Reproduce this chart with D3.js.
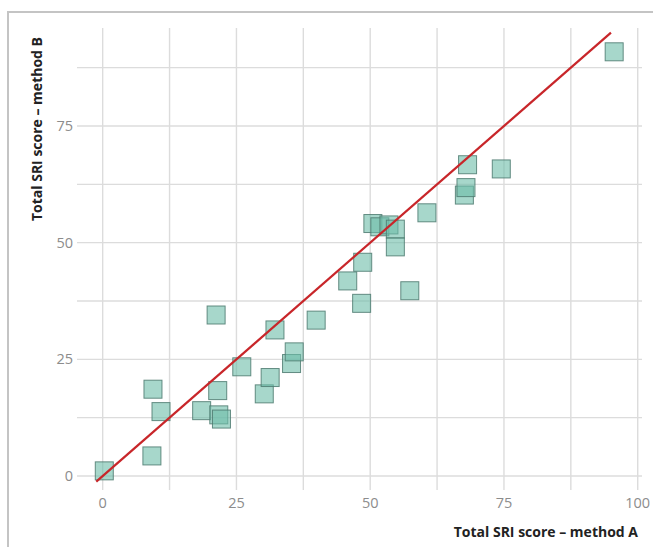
<!DOCTYPE html>
<html>
<head>
<meta charset="utf-8">
<script src="https://cdn.jsdelivr.net/npm/d3@7"></script>
<style>
  body { margin: 0; background: #fff; }
  .tick-label { font-family: "Open Sans", sans-serif; font-size: 14.5px; fill: #8c8c8c; }
  .axis-title { font-family: "Open Sans", sans-serif; font-weight: 700; font-size: 14px; fill: #222; }
</style>
</head>
<body>
<div class="chart"></div>
<script>
  // scores
  var methodA = [0.3, 9.2, 9.4, 10.9, 18.5, 21.5, 21.7, 22.2, 21.2, 26, 30.2, 31.3, 32.2, 35.3, 35.8, 39.9,
    45.8, 48.4, 48.6, 50.5, 51.8, 53.5, 54.7, 54.7, 57.4, 60.6, 67.6, 67.9, 68.2, 74.5, 95.6];
  var methodB = [1.1, 4.3, 18.6, 13.8, 14, 18.3, 13.1, 12.2, 34.5, 23.4, 17.6, 21.1, 31.3, 24.1, 26.6, 33.4,
    41.8, 37, 45.8, 54.1, 53.4, 53.8, 52.9, 49.1, 39.7, 56.4, 60.2, 61.8, 66.7, 65.8, 90.9];
  var tickValues = [0, 25, 50, 75, 100];
  var yTickValues = [0, 25, 50, 75];
  var gridValues = [0, 12.5, 25, 37.5, 50, 62.5, 75, 87.5, 100];
  var lineEnds = [-1.2, 95];

  var width = 653, height = 547;
  var svg = d3.select(".chart").append("svg")
    .attr("width", width)
    .attr("height", height);

  // outer frame
  svg.append("rect")
    .attr("x", 8).attr("y", 12)
    .attr("width", 700).attr("height", 600)
    .attr("fill", "none")
    .attr("stroke", "#c4c4c4")
    .attr("stroke-width", 2);

  var x = d3.scaleLinear().domain([-4.8, 100.8]).range([77, 642]);
  var y = d3.scaleLinear().domain([-3, 96]).range([490, 28]);

  var grid = svg.append("g").attr("class", "grid");
  grid.selectAll("line.v")
    .data(gridValues.filter(function(d) { return d <= 100; }))
    .enter().append("line")
    .attr("class", "v")
    .attr("x1", function(d) { return x(d); })
    .attr("x2", function(d) { return x(d); })
    .attr("y1", y.range()[1])
    .attr("y2", y.range()[0])
    .attr("stroke", "#dcdcdc")
    .attr("stroke-width", 1.4);
  grid.selectAll("line.h")
    .data(gridValues.filter(function(d) { return d <= 95; }))
    .enter().append("line")
    .attr("class", "h")
    .attr("y1", function(d) { return y(d); })
    .attr("y2", function(d) { return y(d); })
    .attr("x1", x.range()[0])
    .attr("x2", x.range()[1])
    .attr("stroke", "#dcdcdc")
    .attr("stroke-width", 1.4);

  // tick labels
  svg.append("g").selectAll("text")
    .data(tickValues)
    .enter().append("text")
    .attr("class", "tick-label")
    .attr("x", function(d) { return x(d); })
    .attr("y", 508)
    .attr("text-anchor", "middle")
    .text(function(d) { return d; });

  svg.append("g").selectAll("text")
    .data(yTickValues)
    .enter().append("text")
    .attr("class", "tick-label")
    .attr("x", 73)
    .attr("y", function(d) { return y(d) + 5; })
    .attr("text-anchor", "end")
    .text(function(d) { return d; });

  // points
  var pts = methodA.map(function(a, i) { return { a: a, b: methodB[i] }; });
  var s = 18;
  svg.append("g").selectAll("rect")
    .data(pts)
    .enter().append("rect")
    .attr("x", function(d) { return x(d.a) - s / 2; })
    .attr("y", function(d) { return y(d.b) - s / 2; })
    .attr("width", s)
    .attr("height", s)
    .attr("fill", "#6dbca8")
    .attr("fill-opacity", 0.6)
    .attr("stroke", "#4d7a70")
    .attr("stroke-opacity", 0.85)
    .attr("stroke-width", 1);

  // identity line
  svg.append("line")
    .attr("x1", x(lineEnds[0])).attr("y1", y(lineEnds[0]))
    .attr("x2", x(lineEnds[1])).attr("y2", y(lineEnds[1]))
    .attr("stroke", "#c8262a")
    .attr("stroke-width", 2.2);

  // axis titles
  svg.append("text")
    .attr("class", "axis-title")
    .attr("x", 638)
    .attr("y", 537)
    .attr("text-anchor", "end")
    .text("Total SRI score – method A");

  svg.append("text")
    .attr("class", "axis-title")
    .attr("transform", "translate(42,37) rotate(-90)")
    .attr("text-anchor", "end")
    .text("Total SRI score – method B");
</script>
</body>
</html>
